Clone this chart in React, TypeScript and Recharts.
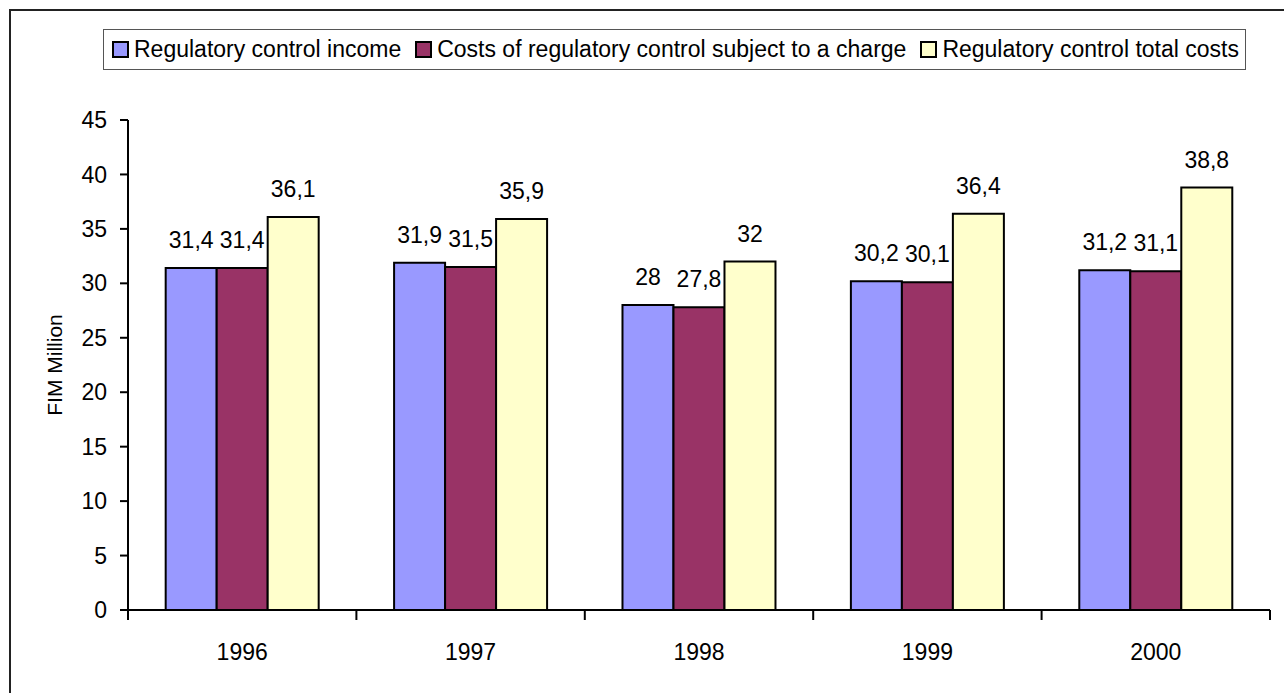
import { BarChart, Bar, XAxis, YAxis, Legend, LabelList, Label } from 'recharts';

const years = ['1996', '1997', '1998', '1999', '2000'];
const income = [31.4, 31.9, 28, 30.2, 31.2];
const chargedCosts = [31.4, 31.5, 27.8, 30.1, 31.1];
const totalCosts = [36.1, 35.9, 32, 36.4, 38.8];
const yTicks = [0, 5, 10, 15, 20, 25, 30, 35, 40, 45];

const seriesNames = [
  'Regulatory control income',
  'Costs of regulatory control subject to a charge',
  'Regulatory control total costs',
];
const seriesColors = ['#9999FF', '#993366', '#FFFFCC'];

const data = years.map((y, i) => ({
  year: y,
  income: income[i],
  charged: chargedCosts[i],
  total: totalCosts[i],
}));

const FONT = "'Liberation Sans', Arial, sans-serif";
const FS = 23;

const fmt = (v: any) => String(v).replace('.', ',');

// year label centred in the band, tick marks on the band edges
function YearTick(props: any) {
  const { x, y, payload, index, visibleTicksCount } = props;
  const half = payload.offset ?? 0;
  return (
    <g>
      <line x1={x - half} x2={x - half} y1={y} y2={y + 10} stroke="#000" strokeWidth={2} />
      {index === visibleTicksCount - 1 && (
        <line x1={x + half} x2={x + half} y1={y} y2={y + 10} stroke="#000" strokeWidth={2} />
      )}
      <text x={x} y={y + 50} textAnchor="middle" fontSize={FS} fontFamily={FONT} fill="#000">
        {payload.value}
      </text>
    </g>
  );
}

function LegendBox() {
  return (
    <div
      style={{
        border: '1px solid #555',
        background: '#fff',
        height: 39,
        display: 'flex',
        alignItems: 'center',
        paddingLeft: 8,
        fontFamily: FONT,
        fontSize: FS,
        color: '#000',
        whiteSpace: 'nowrap',
      }}
    >
      {seriesNames.map((n, i) => (
        <div key={n} style={{ display: 'flex', alignItems: 'center', marginRight: 14 }}>
          <span
            style={{
              display: 'inline-block',
              width: 13,
              height: 13,
              border: '2.5px solid #000',
              background: seriesColors[i],
              marginRight: 5,
            }}
          />
          <span>{n}</span>
        </div>
      ))}
    </div>
  );
}

export default function App() {
  return (
    <div style={{ position: 'absolute', left: 0, top: 0, width: 1284, height: 693, overflow: 'hidden', background: '#fff' }}>
      <div
        style={{
          position: 'absolute',
          left: 9,
          top: 9,
          width: 1300,
          height: 720,
          border: '2px solid #222',
          boxSizing: 'border-box',
        }}
      />
      <div style={{ position: 'absolute', left: 0, top: 0 }}>
        <BarChart
          width={1284}
          height={693}
          data={data}
          margin={{ top: 120, right: 14, left: 68, bottom: 23 }}
          barCategoryGap="16.5%"
          barGap={0}
        >
          <XAxis
            dataKey="year"
            height={60}
            tickSize={0}
            tickMargin={0}
            axisLine={{ stroke: '#000', strokeWidth: 2 }}
            tickLine={false}
            tick={<YearTick />}
            interval={0}
          />
          <YAxis
            width={60}
            domain={[0, 45]}
            ticks={yTicks}
            interval={0}
            tickSize={8}
            tickMargin={13}
            axisLine={{ stroke: '#000', strokeWidth: 2 }}
            tickLine={{ stroke: '#000', strokeWidth: 2 }}
            tick={{ fill: '#000', fontSize: FS, fontFamily: FONT }}
          >
            <Label
              content={({ viewBox }: any) => {
                const cy = viewBox.y + viewBox.height / 2;
                return (
                  <text
                    x={54}
                    y={cy}
                    transform={`rotate(-90 54 ${cy})`}
                    textAnchor="middle"
                    dominantBaseline="central"
                    fontSize={21}
                    fontFamily={FONT}
                    fill="#000"
                  >
                    FIM Million
                  </text>
                );
              }}
            />
          </YAxis>
          <Legend
            layout="horizontal"
            verticalAlign="middle"
            align="center"
            content={<LegendBox />}
            wrapperStyle={{ left: 103, top: 29, width: 1143, height: 41 }}
          />
          {(['income', 'charged', 'total'] as const).map((k, i) => (
            <Bar
              key={k}
              dataKey={k}
              name={seriesNames[i]}
              fill={seriesColors[i]}
              stroke="#000"
              strokeWidth={2}
              isAnimationActive={false}
            >
              <LabelList
                dataKey={k}
                position="top"
                offset={20}
                formatter={fmt}
                style={{ fontSize: FS, fontFamily: FONT, fill: '#000' }}
              />
            </Bar>
          ))}
        </BarChart>
      </div>
    </div>
  );
}
